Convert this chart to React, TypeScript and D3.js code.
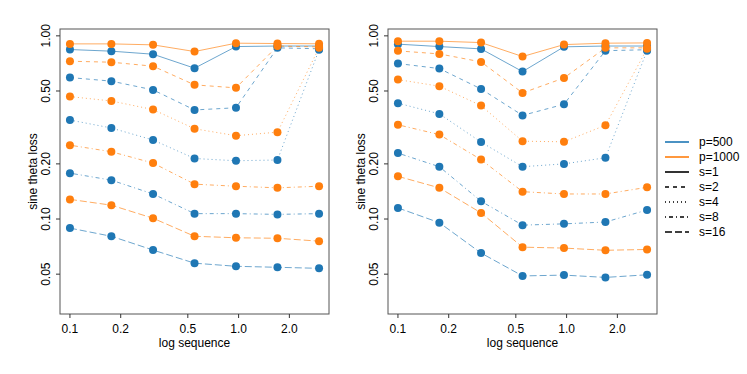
import React, { useEffect, useRef } from 'react';
import * as d3 from 'd3';

// x positions (log sequence)
const xSeq = [0.1, 0.176, 0.311, 0.548, 0.965, 1.7, 3.0];
const xTicks = [0.1, 0.2, 0.5, 1.0, 2.0];
const yTicks = [0.05, 0.1, 0.2, 0.5, 1.0];
const sLevels = [1, 2, 4, 8, 16];

// left panel, one row per s
const left500 = [
  [0.842, 0.825, 0.794, 0.666, 0.874, 0.88, 0.88],
  [0.592, 0.566, 0.507, 0.394, 0.405, 0.86, 0.85],
  [0.347, 0.314, 0.27, 0.214, 0.208, 0.21, 0.84],
  [0.178, 0.163, 0.137, 0.107, 0.107, 0.106, 0.107],
  [0.0892, 0.0805, 0.0677, 0.0574, 0.0552, 0.0545, 0.0538],
];
const left1000 = [
  [0.904, 0.904, 0.893, 0.821, 0.912, 0.908, 0.905],
  [0.727, 0.718, 0.683, 0.54, 0.52, 0.88, 0.87],
  [0.466, 0.441, 0.396, 0.311, 0.285, 0.298, 0.86],
  [0.253, 0.233, 0.202, 0.155, 0.151, 0.148, 0.151],
  [0.128, 0.119, 0.101, 0.0805, 0.079, 0.0785, 0.0757],
];

// right panel
const right500 = [
  [0.901, 0.874, 0.849, 0.638, 0.871, 0.88, 0.88],
  [0.706, 0.663, 0.513, 0.368, 0.423, 0.83, 0.84],
  [0.429, 0.375, 0.263, 0.193, 0.2, 0.216, 0.83],
  [0.229, 0.193, 0.125, 0.0926, 0.0941, 0.0963, 0.112],
  [0.115, 0.0955, 0.0652, 0.0489, 0.0494, 0.048, 0.0496],
];
const right1000 = [
  [0.935, 0.935, 0.919, 0.771, 0.896, 0.912, 0.915],
  [0.828, 0.797, 0.721, 0.488, 0.589, 0.86, 0.86],
  [0.577, 0.531, 0.416, 0.266, 0.264, 0.325, 0.85],
  [0.327, 0.289, 0.211, 0.141, 0.137, 0.137, 0.149],
  [0.171, 0.148, 0.108, 0.0702, 0.0694, 0.0675, 0.0682],
];

const BLUE = '#1f77b4';
const ORANGE = '#ff7f0e';
// R lty: solid, dashed, dotted, dotdash, longdash
const dashes = ['none', '4,4', '1,3', '1,3,4,3', '7,3'];
const FONT = '"Liberation Sans", Arial, Helvetica, sans-serif';

const App: React.FC = () => {
  const svgRef = useRef<SVGSVGElement>(null);

  useEffect(() => {
    document.body.style.margin = '0';
    if (!svgRef.current) return;
    const svg = d3.select(svgRef.current);
    svg.selectAll('*').remove();

    const top = 29;
    const bottom = 314;
    const panels = [
      { left: 60, p500: left500, p1000: left1000 },
      { left: 388, p500: right500, p1000: right1000 },
    ];
    const panelW = 269;

    panels.forEach(panel => {
      const x = d3.scaleLog().domain([0.0873, 3.436]).range([panel.left, panel.left + panelW]);
      const y = d3.scaleLog().domain([0.0303, 1.09]).range([bottom, top]);
      const g = svg.append('g');

      const line = d3.line<number>()
        .x((_, i) => x(xSeq[i]))
        .y(d => y(d));

      // lines first
      const series: { vals: number[]; color: string; dash: string }[] = [];
      sLevels.forEach((_, k) => {
        series.push({ vals: panel.p500[k], color: BLUE, dash: dashes[k] });
        series.push({ vals: panel.p1000[k], color: ORANGE, dash: dashes[k] });
      });

      series.forEach(s => {
        g.append('path')
          .attr('d', line(s.vals))
          .attr('fill', 'none')
          .attr('stroke', s.color)
          .attr('stroke-opacity', 0.65)
          .attr('stroke-width', 1)
          .attr('stroke-dasharray', s.dash);
      });

      series.forEach(s => {
        g.selectAll(null)
          .data(s.vals)
          .enter()
          .append('circle')
          .attr('cx', (_, i) => x(xSeq[i]))
          .attr('cy', d => y(d))
          .attr('r', 4)
          .attr('fill', s.color);
      });

      // box
      g.append('rect')
        .attr('x', panel.left)
        .attr('y', top)
        .attr('width', panelW)
        .attr('height', bottom - top)
        .attr('fill', 'none')
        .attr('stroke', '#555')
        .attr('stroke-width', 1);

      // x axis
      xTicks.forEach(t => {
        g.append('line')
          .attr('x1', x(t)).attr('x2', x(t))
          .attr('y1', bottom).attr('y2', bottom + 4)
          .attr('stroke', '#333');
        g.append('text')
          .attr('x', x(t))
          .attr('y', bottom + 19)
          .attr('text-anchor', 'middle')
          .style('font-family', FONT)
          .style('font-size', '12px')
          .text(d3.format('.1f')(t));
      });
      g.append('text')
        .attr('x', panel.left + panelW / 2)
        .attr('y', 347)
        .attr('text-anchor', 'middle')
        .style('font-family', FONT)
        .style('font-size', '12px')
        .text('log sequence');

      // y axis
      yTicks.forEach(t => {
        g.append('line')
          .attr('x1', panel.left - 4).attr('x2', panel.left)
          .attr('y1', y(t)).attr('y2', y(t))
          .attr('stroke', '#333');
        g.append('text')
          .attr('transform', `translate(${panel.left - 10},${y(t)}) rotate(-90)`)
          .attr('text-anchor', 'middle')
          .style('font-family', FONT)
          .style('font-size', '12px')
          .text(d3.format('.2f')(t));
      });
      g.append('text')
        .attr('transform', `translate(${panel.left - 23},${(top + bottom) / 2}) rotate(-90)`)
        .attr('text-anchor', 'middle')
        .style('font-family', FONT)
        .style('font-size', '12px')
        .text('sine theta loss');
    });

    // legend
    const legendItems = [
      { label: 'p=500', color: BLUE, dash: 'none' },
      { label: 'p=1000', color: ORANGE, dash: 'none' },
      ...sLevels.map((s, k) => ({ label: `s=${s}`, color: '#000', dash: dashes[k] })),
    ];
    const lg = svg.append('g');
    legendItems.forEach((item, i) => {
      const ly = 142 + i * 15;
      lg.append('line')
        .attr('x1', 665).attr('x2', 689)
        .attr('y1', ly).attr('y2', ly)
        .attr('stroke', item.color)
        .attr('stroke-width', 1.6)
        .attr('stroke-dasharray', item.dash);
      lg.append('text')
        .attr('x', 699)
        .attr('y', ly + 4)
        .style('font-family', FONT)
        .style('font-size', '12px')
        .text(item.label);
    });
  }, []);

  return <svg ref={svgRef} width={747} height={374} style={{ display: 'block', background: '#fff' }} />;
};

export default App;
